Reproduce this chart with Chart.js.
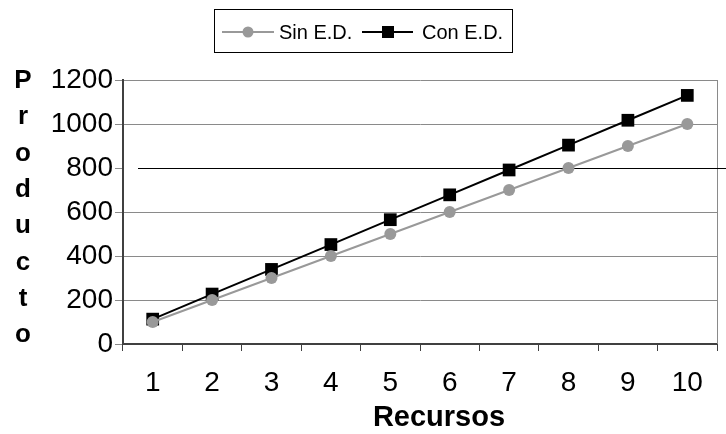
<!DOCTYPE html>
<html>
<head>
<meta charset="utf-8">
<script src="https://cdn.jsdelivr.net/npm/chart.js@4.4.1/dist/chart.umd.min.js"></script>
<style>
  html, body { margin: 0; padding: 0; background: #ffffff; }
  #wrap { width: 726px; height: 434px; position: relative; }
</style>
</head>
<body>
<div id="wrap"><canvas id="c" width="726" height="434"></canvas></div>
<script>
// Resources (x categories)
const recursos = ['1', '2', '3', '4', '5', '6', '7', '8', '9', '10'];
// Output without / with E.D.
const sinED = [100, 200, 300, 400, 500, 600, 700, 800, 900, 1000];
const conED = [113, 227, 339, 452, 565, 678, 791, 904, 1017, 1130];
// Y axis range and step
const yMin = 0, yMax = 1200, yStep = 200;
const seriesNames = ['Sin E.D.', 'Con E.D.'];
const yTitle = 'Producto';
const xTitle = 'Recursos';

const FONT = '"Liberation Sans", Arial, sans-serif';
const GRID = '#8a8a8a';
const AXIS = '#404040';
const SIN_COLOR = '#999999';
const CON_COLOR = '#000000';

const decor = {
  id: 'decor',
  beforeDatasetsDraw(chart) {
    const { ctx, chartArea: a, scales } = chart;
    ctx.save();
    // right border of the plot
    ctx.strokeStyle = GRID;
    ctx.lineWidth = 1;
    ctx.beginPath();
    ctx.moveTo(a.right + 0.5, a.top);
    ctx.lineTo(a.right + 0.5, a.bottom);
    ctx.stroke();
    // the 800 line, drawn in black
    const y8 = Math.round(scales.y.getPixelForValue(800)) + 0.5;
    ctx.strokeStyle = '#000000';
    ctx.beginPath();
    ctx.moveTo(a.left + 15, y8);
    ctx.lineTo(chart.width, y8);
    ctx.stroke();
    ctx.restore();
  },
  afterDraw(chart) {
    const { ctx } = chart;
    ctx.save();
    // vertical y-axis title, one letter per row
    ctx.fillStyle = '#000000';
    ctx.font = 'bold 26px ' + FONT;
    ctx.textAlign = 'center';
    ctx.textBaseline = 'alphabetic';
    const letters = yTitle.split('');
    letters.forEach((ch, i) => {
      ctx.fillText(ch, 23, 88 + i * 36.3);
    });
    // x-axis title
    ctx.font = 'bold 29px ' + FONT;
    ctx.textBaseline = 'middle';
    ctx.fillText(xTitle, 439, 418);

    // legend box
    const bx = 214, by = 9, bw = 298, bh = 43;
    ctx.strokeStyle = '#000000';
    ctx.lineWidth = 1;
    ctx.strokeRect(bx + 0.5, by + 0.5, bw, bh);
    const cy = 32;
    ctx.font = '20px ' + FONT;
    ctx.textAlign = 'left';
    ctx.textBaseline = 'middle';
    // Sin E.D.
    ctx.strokeStyle = SIN_COLOR;
    ctx.lineWidth = 2;
    ctx.beginPath(); ctx.moveTo(222, cy); ctx.lineTo(274, cy); ctx.stroke();
    ctx.fillStyle = SIN_COLOR;
    ctx.beginPath(); ctx.arc(248, cy, 5.5, 0, Math.PI * 2); ctx.fill();
    ctx.fillStyle = '#000000';
    ctx.fillText(seriesNames[0], 279, cy + 1);
    // Con E.D.
    ctx.strokeStyle = CON_COLOR;
    ctx.beginPath(); ctx.moveTo(362, cy); ctx.lineTo(413, cy); ctx.stroke();
    ctx.fillStyle = CON_COLOR;
    ctx.fillRect(382, cy - 6, 12, 12);
    ctx.fillText(seriesNames[1], 422, cy + 1);
    ctx.restore();
  }
};

new Chart(document.getElementById('c'), {
  type: 'line',
  data: {
    labels: recursos,
    datasets: [
      {
        label: seriesNames[0],
        data: sinED,
        borderColor: SIN_COLOR,
        backgroundColor: SIN_COLOR,
        borderWidth: 2,
        pointStyle: 'circle',
        pointRadius: 6,
        pointBorderWidth: 0,
        tension: 0
      },
      {
        label: seriesNames[1],
        data: conED,
        borderColor: CON_COLOR,
        backgroundColor: CON_COLOR,
        borderWidth: 2,
        pointStyle: 'rect',
        pointRadius: 9,
        pointBorderWidth: 0,
        tension: 0
      }
    ]
  },
  options: {
    responsive: false,
    animation: false,
    devicePixelRatio: 1,
    layout: { padding: { top: 80, right: 4, left: 0, bottom: 0 } },
    plugins: { legend: { display: false }, title: { display: false }, tooltip: { enabled: false } },
    scales: {
      x: {
        type: 'category',
        offset: true,
        grid: {
          offset: true,
          drawOnChartArea: false,
          tickLength: 7,
          tickColor: AXIS,
          tickWidth: 1
        },
        border: { color: AXIS, width: 2 },
        ticks: {
          color: '#000000',
          font: { family: FONT, size: 28 },
          padding: 15,
          maxRotation: 0,
          autoSkip: false
        },
        afterFit(s) { s.height = 90; }
      },
      y: {
        min: yMin,
        max: yMax,
        grid: {
          color: (c) => (c.tick && c.tick.value === 800 ? 'rgba(0,0,0,0)' : GRID),
          tickColor: GRID,
          lineWidth: 1,
          tickLength: 8
        },
        border: { color: AXIS, width: 2 },
        ticks: {
          stepSize: yStep,
          color: '#000000',
          font: { family: FONT, size: 28 },
          padding: 2,
          callback: (v) => String(v)
        },
        afterFit(s) { s.width = 123; }
      }
    }
  },
  plugins: [decor]
});
</script>
</body>
</html>
